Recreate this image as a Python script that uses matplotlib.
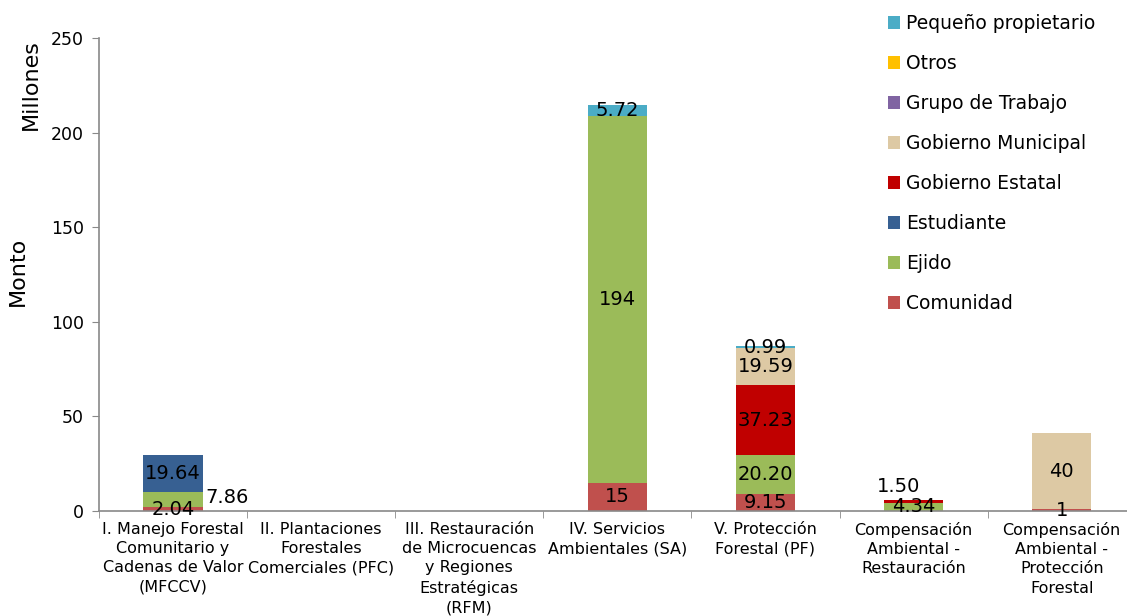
import matplotlib.pyplot as plt
import numpy as np

# categorias y montos (millones)
categories = [
    'I. Manejo Forestal\nComunitario y\nCadenas de Valor\n(MFCCV)',
    'II. Plantaciones\nForestales\nComerciales (PFC)',
    'III. Restauración\nde Microcuencas\ny Regiones\nEstratégicas\n(RFM)',
    'IV. Servicios\nAmbientales (SA)',
    'V. Protección\nForestal (PF)',
    'Compensación\nAmbiental -\nRestauración',
    'Compensación\nAmbiental -\nProtección\nForestal',
]
comunidad = [2.04, 0, 0, 15, 9.15, 0, 1]
ejido = [7.86, 0, 0, 194, 20.20, 4.34, 0]
estudiante = [19.64, 0, 0, 0, 0, 0, 0]
gob_estatal = [0, 0, 0, 0, 37.23, 1.50, 0]
gob_municipal = [0, 0, 0, 0, 19.59, 0, 40]
grupo_trabajo = [0, 0, 0, 0, 0, 0, 0]
otros = [0, 0, 0, 0, 0, 0, 0]
pequeno_prop = [0, 0, 0, 5.72, 0.99, 0, 0]

series = [
    ('Comunidad', comunidad, '#C0504D'),
    ('Ejido', ejido, '#9BBB59'),
    ('Estudiante', estudiante, '#376092'),
    ('Gobierno Estatal', gob_estatal, '#C00000'),
    ('Gobierno Municipal', gob_municipal, '#DDC9A4'),
    ('Grupo de Trabajo', grupo_trabajo, '#8064A2'),
    ('Otros', otros, '#FFC000'),
    ('Pequeño propietario', pequeno_prop, '#4BACC6'),
]

plt.rcParams['font.family'] = ['DejaVu Sans']
fig = plt.figure(figsize=(11.27, 6.16), dpi=100)
ax = fig.add_axes([0.0878, 0.1705, 0.92, 0.7675])

x = np.arange(len(categories))
width = 0.4
bottom = np.zeros(len(categories))
handles = []
for name, vals, color in series:
    vals = np.array(vals, dtype=float)
    bars = ax.bar(x, vals, width, bottom=bottom, color=color, label=name)
    handles.append(bars)
    for i, (b, v) in enumerate(zip(bars, vals)):
        if v == 0:
            continue
        txt = f'{v:.0f}' if float(v).is_integer() else f'{v:.2f}'
        cx = b.get_x() + b.get_width() / 2
        cy = b.get_y() + b.get_height() / 2
        if name == 'Ejido' and i == 0:
            ax.text(b.get_x() + b.get_width() + 0.02, cy + 1, txt,
                    ha='left', va='center', fontsize=14)
        elif name == 'Gobierno Estatal' and i == 5:
            ax.annotate(txt, (cx, b.get_y() + b.get_height()),
                        xytext=(-11, 10), textcoords='offset points',
                        ha='center', va='center', fontsize=14)
        else:
            ax.text(cx, cy, txt, ha='center', va='center', fontsize=14)
    bottom += vals

ax.set_xlim(-0.5, len(categories) - 0.5)
ax.set_ylim(0, 250)
ax.set_yticks(range(0, 251, 50))
ax.set_xticks(x)
ax.set_xticklabels(categories, fontsize=11.5, linespacing=1.35)
ax.set_xticks(np.arange(-0.5, len(categories), 1), minor=True)
ax.tick_params(axis='x', which='major', length=0, pad=8)
ax.tick_params(axis='x', which='minor', length=5, color='#898989')
ax.tick_params(axis='y', labelsize=12.5, length=5, color='#898989', pad=6)
for s in ['top', 'right']:
    ax.spines[s].set_visible(False)
for s in ['left', 'bottom']:
    ax.spines[s].set_color('#898989')
    ax.spines[s].set_linewidth(1.2)

fig.text(0.016, 0.56, 'Monto', rotation=90, ha='center', va='center', fontsize=16)
fig.text(0.027, 0.862, 'Millones', rotation=90, ha='center', va='center', fontsize=16)

fig.legend(handles[::-1], [s[0] for s in series][::-1], loc='upper left',
           bbox_to_anchor=(0.7795, 0.992), frameon=False, fontsize=13.5,
           handlelength=0.65, handleheight=0.65, handletextpad=0.3,
           labelspacing=1.12, borderpad=0)

fig.savefig('out.png', dpi=100)
